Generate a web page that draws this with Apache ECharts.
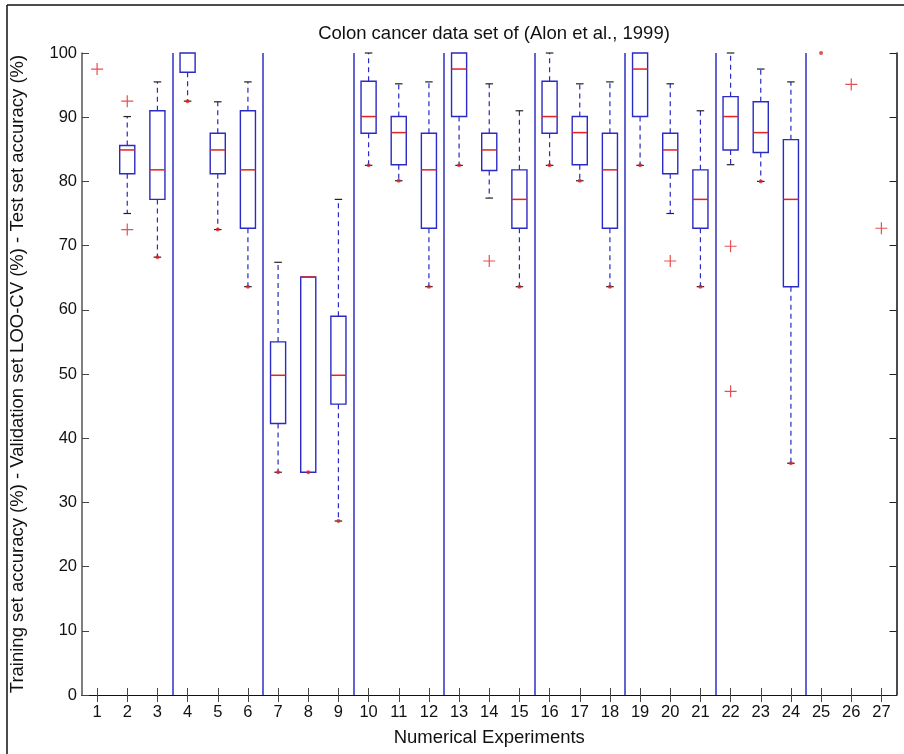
<!DOCTYPE html>
<html>
<head>
<meta charset="utf-8">
<script src="https://cdn.jsdelivr.net/npm/echarts@6/dist/echarts.min.js"></script>
<style>html,body{margin:0;padding:0;background:#fff;}#c{width:904px;height:754px;}</style>
</head>
<body>
<div id="c"></div>
<script>
// ---- data ----
const experiments = [1,2,3,4,5,6,7,8,9,10,11,12,13,14,15,16,17,18,19,20,21,22,23,24,25,26,27];
const lowerWhisker = [100,75.0,68.2,92.5,72.5,63.6,34.7,34.7,27.1,82.5,80.1,63.6,82.5,77.4,63.6,82.5,80.1,63.6,82.5,75.0,63.6,82.6,80.0,36.1,100,100,100];
const q1Values     = [100,81.2,77.2,97.0,81.2,72.7,42.3,34.7,45.3,87.5,82.6,72.7,90.1,81.7,72.7,87.5,82.6,72.7,90.1,81.2,72.7,84.9,84.5,63.6,100,100,100];
const medianValues = [100,84.9,81.8,100,84.9,81.8,49.8,65.1,49.8,90.1,87.6,81.8,97.5,84.9,77.2,90.1,87.6,81.8,97.5,84.9,77.2,90.1,87.6,77.2,100,100,100];
const q3Values     = [100,85.6,91.0,100,87.5,91.0,55.0,65.1,59.0,95.6,90.1,87.5,100,87.5,81.8,95.6,90.1,87.5,100,87.5,81.8,93.2,92.4,86.5,100,100,100];
const upperWhisker = [100,90.1,95.5,100,92.4,95.5,67.4,65.1,77.2,100,95.2,95.5,100,95.2,91.0,100,95.2,95.5,100,95.2,91.0,100,97.5,95.5,100,100,100];
const outliers = [[1,97.5],[2,92.5],[2,72.5],[14,67.6],[20,67.6],[22,69.9],[22,47.3],[26,95.1],[27,72.7]];
const whiskerEnds = [[3,68.2],[4,92.5],[5,72.5],[6,63.6],[7,34.7],[8,34.7],[9,27.1],[10,82.5],[11,80.1],[12,63.6],[13,82.5],[15,63.6],[16,82.5],[17,80.1],[18,63.6],[19,82.5],[21,63.6],[23,80.0],[24,36.1],[25,100]];
const separators = [3.5,6.5,9.5,12.5,15.5,18.5,21.5,24.5];

const boxRows = experiments.map((x,i)=>[x, lowerWhisker[i], q1Values[i], medianValues[i], q3Values[i], upperWhisker[i]]);

const FONT = 'Liberation Sans, Arial, sans-serif';
const BOX_COLOR = '#2a2ac4';
const MED_COLOR = '#e02424';
const AXIS_TOP = 100;

const chart = echarts.init(document.getElementById('c'), null, {renderer:'canvas'});

function renderBox(params, api){
  const x = api.value(0);
  const lo = api.value(1), q1 = api.value(2), med = api.value(3), q3 = api.value(4), hi = api.value(5);
  const children = [];
  if (lo >= AXIS_TOP) return {type:'group', children};
  const w = api.size([0.5, 0])[0];
  const cw = api.size([0.25, 0])[0];
  const pLo = api.coord([x, lo]), pQ1 = api.coord([x, q1]), pMed = api.coord([x, med]);
  const pQ3 = api.coord([x, q3]), pHi = api.coord([x, hi]);
  const cx = pMed[0];
  if (hi > q3) {
    children.push({type:'line', shape:{x1:cx,y1:pQ3[1],x2:cx,y2:pHi[1]}, style:{stroke:BOX_COLOR,lineWidth:1.2,lineDash:[5,4]}});
    children.push({type:'line', shape:{x1:cx-cw/2,y1:pHi[1],x2:cx+cw/2,y2:pHi[1]}, style:{stroke:'#222',lineWidth:1.2}});
  }
  if (lo < q1) {
    children.push({type:'line', shape:{x1:cx,y1:pQ1[1],x2:cx,y2:pLo[1]}, style:{stroke:BOX_COLOR,lineWidth:1.2,lineDash:[5,4]}});
    children.push({type:'line', shape:{x1:cx-cw/2,y1:pLo[1],x2:cx+cw/2,y2:pLo[1]}, style:{stroke:'#222',lineWidth:1.2}});
  }
  children.push({type:'rect', shape:{x:cx-w/2,y:pQ3[1],width:w,height:pQ1[1]-pQ3[1]}, style:{fill:'none',stroke:BOX_COLOR,lineWidth:1.4}});
  if (med < AXIS_TOP) {
    children.push({type:'line', shape:{x1:cx-w/2,y1:pMed[1],x2:cx+w/2,y2:pMed[1]}, style:{stroke:MED_COLOR,lineWidth:1.5}});
  }
  return {type:'group', children};
}

const plusPath = 'path://M4.5,0H5.5V4.5H10V5.5H5.5V10H4.5V5.5H0V4.5H4.5Z';

const option = {
  backgroundColor:'#fff',
  animation:false,
  title:{
    text:'Colon cancer data set of (Alon et al., 1999)',
    left:489, top:19, textAlign:'center',
    textStyle:{fontFamily:FONT,fontSize:18.5,fontWeight:'normal',color:'#111'}
  },
  grid:{left:82,right:7.5,top:53,bottom:59},
  xAxis:[{
    type:'value', min:0.5, max:27.5, position:'bottom',
    name:'Numerical Experiments', nameLocation:'middle', nameGap:33,
    nameTextStyle:{fontFamily:FONT,fontSize:18.5,color:'#111'},
    axisLine:{show:true,lineStyle:{color:'#111',width:1.2}},
    axisTick:{show:true,inside:true,length:7,customValues:experiments,lineStyle:{color:'#444'}},
    axisLabel:{show:true,customValues:experiments,fontFamily:FONT,fontSize:16.5,color:'#111',margin:9},
    splitLine:{show:false}
  },{
    type:'value', min:0.5, max:27.5, position:'top',
    axisLine:{show:true,lineStyle:{color:'#111',width:1}},
    axisTick:{show:true,inside:true,length:7,customValues:experiments,lineStyle:{color:'#444'}},
    axisLabel:{show:false}, splitLine:{show:false}
  }],
  yAxis:[{
    type:'value', min:0, max:100, interval:10, position:'left',
    name:'Training set accuracy (%) - Validation set LOO-CV (%) - Test set accuracy (%)',
    nameLocation:'middle', nameGap:55,
    nameTextStyle:{fontFamily:FONT,fontSize:18.5,color:'#111'},
    axisLine:{show:true,lineStyle:{color:'#555',width:1.5}},
    axisTick:{show:true,inside:true,length:7,lineStyle:{color:'#444'}},
    axisLabel:{fontFamily:FONT,fontSize:16.5,color:'#111',margin:5},
    splitLine:{show:false}
  },{
    type:'value', min:0, max:100, interval:10, position:'right',
    axisLine:{show:true,lineStyle:{color:'#111',width:1.5}},
    axisTick:{show:true,inside:true,length:7,lineStyle:{color:'#222'}},
    axisLabel:{show:false}, splitLine:{show:false}
  }],
  graphic:[
    {type:'line', shape:{x1:7,y1:5,x2:904,y2:5}, style:{stroke:'#111',lineWidth:1.5}},
    {type:'line', shape:{x1:7,y1:5,x2:7,y2:754}, style:{stroke:'#111',lineWidth:1.5}}
  ],
  series:[
    {
      type:'custom', name:'boxes', xAxisIndex:0, yAxisIndex:0,
      data:boxRows, encode:{x:0,y:[1,2,3,4,5]}, clip:false,
      renderItem:renderBox,
      markLine:{
        silent:true, symbol:['none','none'], label:{show:false},
        lineStyle:{color:'#3030c0',width:1.5,type:'solid'},
        data:separators.map(v=>({xAxis:v}))
      }
    },
    {
      type:'scatter', name:'outliers', xAxisIndex:0, yAxisIndex:0,
      data:outliers, symbol:plusPath, symbolSize:12,
      itemStyle:{color:MED_COLOR}
    },
    {
      type:'scatter', name:'ends', xAxisIndex:0, yAxisIndex:0,
      data:whiskerEnds, symbol:'circle', symbolSize:4,
      itemStyle:{color:MED_COLOR}
    }
  ]
};
chart.setOption(option);
</script>
</body>
</html>
